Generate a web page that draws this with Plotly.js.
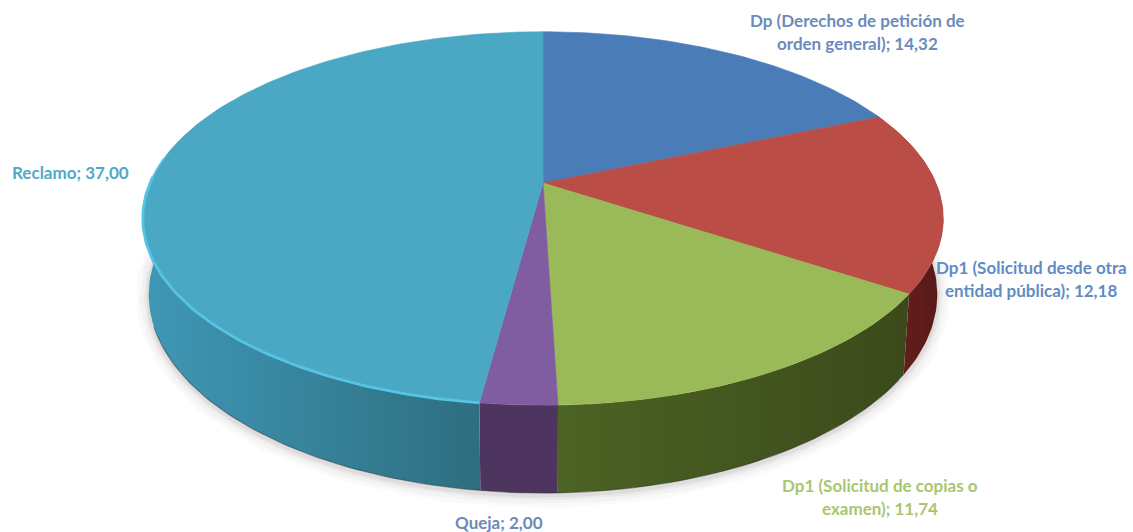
<!DOCTYPE html>
<html>
<head>
<meta charset="utf-8">
<script src="https://cdn.plot.ly/plotly-3.0.1.min.js"></script>
<style>html,body{margin:0;padding:0;background:#fff}#chart{width:1133px;height:532px}</style>
</head>
<body>
<div id="chart"></div>
<script>
// Solicitudes por tipo
const categories = ["Dp (Derechos de petición de orden general)", "Dp1 (Solicitud desde otra entidad pública)", "Dp1 (Solicitud de copias o examen)", "Queja", "Reclamo"];
const values = [14.32, 12.18, 11.74, 2.00, 37.00];

const topColors = ["#4a7cb8", "#bb4d47", "#9aba59", "#805ca0", "#4aa8c4"];
const wallColors = [["#2c4a70", "#2c4a70"], ["#561918", "#6e211e"], ["#4b6324", "#3c4a1b"], ["#4e3560", "#4e3560"], ["#3f98b6", "#2e6e80"]];
const labelColors = ["#6b8bbd", "#5f8cc4", "#a9c66f", "#6f88b8", "#4fa9c6"];

// Label text wrapped on two lines; the value is appended to the last line
const labelLines = [["Dp (Derechos de petición de", "orden general)"], ["Dp1 (Solicitud desde otra", "entidad pública)"], ["Dp1 (Solicitud de copias o", "examen)"], ["Queja"], ["Reclamo"]];
const labelAnchors = [[857, 20], [1031, 267], [880, 485], [499, 522], [70, 172]];
const lineGap = 23;

// Perspective projection of the disc onto the page
const apex = [543, 183], spanX = 393, spanY = 180, depth = 0.19, wallHeight = 75, baseScale = 0.985;

function project(deg, level) {
  const t = deg * Math.PI / 180, u = Math.sin(t), v = Math.cos(t), w = 1 + depth * v;
  if (level === "top") return [apex[0] + spanX * u / w, apex[1] - spanY * v / w];
  return [apex[0] + baseScale * spanX * u / w, apex[1] + baseScale * (wallHeight - spanY * v) / w];
}
function arc(from, to, level) {
  const n = Math.max(2, Math.ceil(Math.abs(to - from))), pts = [];
  for (let i = 0; i <= n; i++) pts.push(project(from + (to - from) * i / n, level));
  return pts;
}
const xs = pts => pts.map(p => p[0]), ys = pts => pts.map(p => p[1]);

const total = values.reduce((a, b) => a + b, 0);
let running = 0;
const slices = values.map(val => {
  const start = running / total * 360;
  running += val;
  return [start, running / total * 360];
});

const traces = [];

// Soft shadow under the disc
[[26, 0.025], [18, 0.035], [10, 0.05], [5, 0.07]].forEach(([width, alpha]) => {
  const edge = arc(70, 290, "base");
  traces.push({x: xs(edge), y: ys(edge).map(y => y + 2), mode: "lines", hoverinfo: "skip",
    line: {color: "rgba(70,60,50," + alpha + ")", width: width}});
});

// Side wall: only the part of each slice facing the viewer is kept
slices.forEach(([a, b], i) => {
  const from = Math.max(a, 66), to = Math.min(b, 300);
  if (to <= from) return;
  const poly = arc(from, to, "top").concat(arc(to, from, "base"));
  traces.push({x: xs(poly), y: ys(poly), mode: "lines", fill: "toself", hoverinfo: "skip",
    line: {width: 0, color: wallColors[i][0]},
    fillgradient: {type: "horizontal", colorscale: i === 1 ? [[0, wallColors[i][1]], [1, wallColors[i][0]]] : [[0, wallColors[i][0]], [1, wallColors[i][1]]]}});
});

// Dark lower edge of the wall
const lowerEdge = arc(125, 250, "base");
traces.push({x: xs(lowerEdge), y: ys(lowerEdge), mode: "lines", hoverinfo: "skip",
  line: {color: "rgba(25,35,50,0.4)", width: 1.2}});

// Top surface
slices.forEach(([a, b], i) => {
  const poly = [apex].concat(arc(a, b, "top"), [apex]);
  traces.push({x: xs(poly), y: ys(poly), mode: "lines", fill: "toself", fillcolor: topColors[i],
    line: {color: topColors[i], width: 0.6}, name: categories[i],
    text: categories[i] + "; " + values[i].toFixed(2).replace(".", ","), hoverinfo: "text", hoveron: "fills"});
});

// Bright bevel along the front rim of the largest slice, fading out towards the back
[[slices[4][0], 272, 2.8, 1], [270, 278, 2.2, 0.6], [276, 284, 1.6, 0.3]].forEach(([from, to, width, opacity]) => {
  const rim = arc(from, to, "top");
  traces.push({x: xs(rim), y: ys(rim), mode: "lines", hoverinfo: "skip", opacity: opacity,
    line: {color: "#57c4e4", width: width}});
});

const annotations = [];
labelLines.forEach((lines, i) => {
  lines.forEach((line, j) => {
    const last = j === lines.length - 1;
    annotations.push({
      x: labelAnchors[i][0], y: labelAnchors[i][1] + j * lineGap, xref: "x", yref: "y",
      text: last ? line + "; " + values[i].toFixed(2).replace(".", ",") : line,
      showarrow: false, xanchor: "center", yanchor: "middle",
      font: {family: "Lato, sans-serif", size: 17, weight: 700, color: labelColors[i]}
    });
  });
});

const layout = {
  width: 1133, height: 532,
  margin: {l: 0, r: 0, t: 0, b: 0},
  paper_bgcolor: "#ffffff", plot_bgcolor: "#ffffff",
  showlegend: false,
  xaxis: {range: [0, 1133], visible: false, fixedrange: true},
  yaxis: {range: [532, 0], visible: false, fixedrange: true},
  annotations: annotations
};

Plotly.newPlot("chart", traces, layout, {displayModeBar: false});
</script>
</body>
</html>
